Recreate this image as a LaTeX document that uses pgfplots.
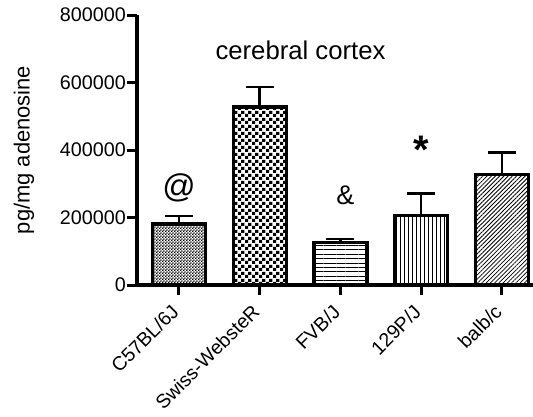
\documentclass[border=0pt]{standalone}
\usepackage{pgfplots}
\pgfplotsset{compat=1.18}
\usepackage{fontspec}
\setmainfont{Liberation Sans}
\usetikzlibrary{patterns,patterns.meta}
\pgfdeclarepatternformonly{smallcheck}{\pgfpointorigin}{\pgfpoint{3.2bp}{3.2bp}}{\pgfpoint{3.2bp}{3.2bp}}{%
  \pgfpathrectangle{\pgfpointorigin}{\pgfpoint{1.6bp}{1.6bp}}%
  \pgfpathrectangle{\pgfpoint{1.6bp}{1.6bp}}{\pgfpoint{1.6bp}{1.6bp}}%
  \pgfusepath{fill}}
\pgfdeclarepatternformonly{bigcheck}{\pgfpointorigin}{\pgfpoint{6.6bp}{6.6bp}}{\pgfpoint{6.6bp}{6.6bp}}{%
  \pgfpathrectangle{\pgfpointorigin}{\pgfpoint{3.3bp}{3.3bp}}%
  \pgfpathrectangle{\pgfpoint{3.3bp}{3.3bp}}{\pgfpoint{3.3bp}{3.3bp}}%
  \pgfusepath{fill}}
\begin{document}
\begin{tikzpicture}
\begin{axis}[
  scale only axis, width=396bp, height=270bp,
  xmin=-0.52, xmax=4.384, ymin=0, ymax=800000,
  axis x line*=bottom, axis y line*=left,
  axis line style={line width=3.5bp},
  ytick={0,200000,400000,600000,800000},
  scaled y ticks=false,
  /pgf/number format/assume math mode=true,
  yticklabel style={/pgf/number format/fixed,/pgf/number format/1000 sep={},font=\fontsize{19.8}{21}\selectfont,inner sep=1bp},
  xtick={0,1,2,3,4},
  xticklabels={C57BL/6J,Swiss-WebsteR,FVB/J,129P/J,balb/c},
  xticklabel style={xshift=-9bp,yshift=-5bp,rotate=45,anchor=north east,font=\fontsize{19.6}{21}\selectfont,inner sep=2bp},
  tick style={line width=3bp,black},
  tick align=outside, major tick length=10bp,
  clip=false,
  error bars/y dir=plus, error bars/y explicit,
  error bars/error bar style={line width=2.5bp,black},
  error bars/error mark options={rotate=90,mark size=14bp,line width=2.5bp,black},
]
\coordinate (O) at (rel axis cs:0,0);
\addplot[ybar,bar width=53bp,bar shift=0pt,draw=black,line width=3.4bp,pattern=smallcheck]
  coordinates {(0,181000) +- (0,24000)};
\addplot[ybar,bar width=53bp,bar shift=0pt,draw=black,line width=3.4bp,pattern=bigcheck]
  coordinates {(1,528000) +- (0,58000)};
\addplot[ybar,bar width=53bp,bar shift=0pt,draw=black,line width=3.4bp,pattern={Lines[angle=0,distance=4.4bp,line width=0.9bp]}]
  coordinates {(2,126500) +- (0,9500)};
\addplot[ybar,bar width=53bp,bar shift=0pt,draw=black,line width=3.4bp,pattern={Lines[angle=90,distance=4bp,line width=0.9bp]}]
  coordinates {(3,205300) +- (0,66400)};
\addplot[ybar,bar width=53bp,bar shift=0pt,draw=black,line width=3.4bp,pattern={Lines[angle=45,distance=3bp,line width=0.8bp]}]
  coordinates {(4,327000) +- (0,66000)};
\node[font=\fontsize{25.8}{28}\selectfont] at (axis cs:1.505,696000) {cerebral cortex};
\node[font=\fontsize{33}{35}\selectfont] at (axis cs:0,287000) {@};
\node[font=\fontsize{27}{29}\selectfont] at (axis cs:2.06,266700) {\&};
\node[font=\fontsize{40}{42}\selectfont\bfseries] at (axis cs:3,400000) {*};
\node[rotate=90,font=\fontsize{22}{24}\selectfont] at (rel axis cs:-0.2854,0.5) {pg/mg adenosine};
\end{axis}
\pgfresetboundingbox
\path[use as bounding box] ([shift={(-137bp,-132bp)}]O) rectangle ([shift={(396bp,285bp)}]O);
\end{tikzpicture}
\end{document}
